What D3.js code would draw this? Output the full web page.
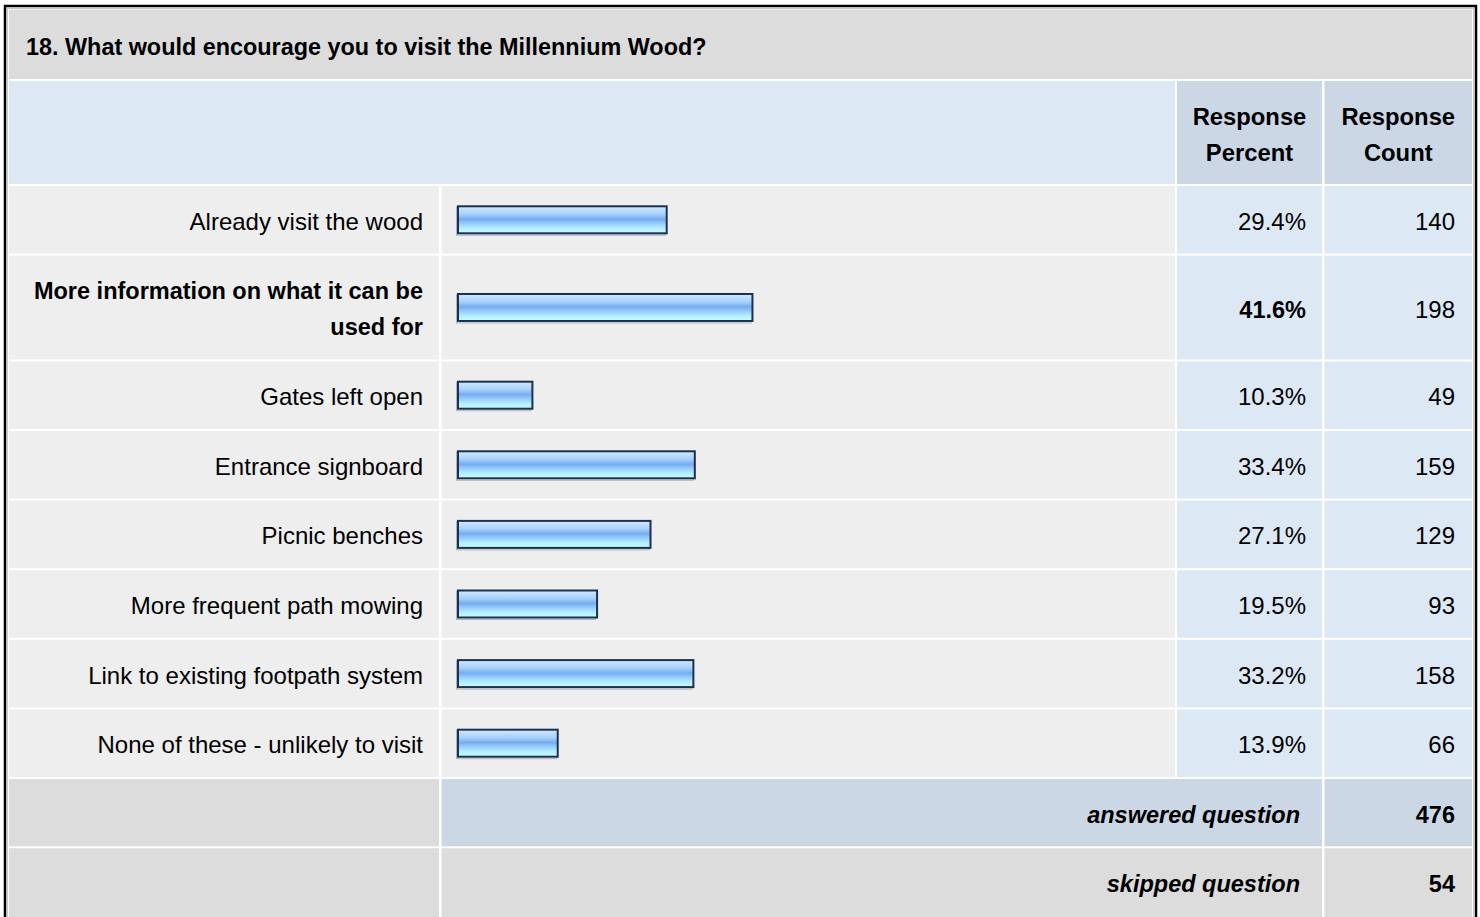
<!DOCTYPE html>
<html>
<head>
<meta charset="utf-8">
<script src="https://cdn.jsdelivr.net/npm/d3@7/dist/d3.min.js"></script>
<style>
  html, body { margin: 0; padding: 0; background: #fff; }
  svg { display: block; font-family: "Liberation Sans", Arial, Helvetica, sans-serif; }
</style>
</head>
<body>
<svg id="chart" width="1480" height="917"></svg>
<script>
// ---- data ----
const title = "18. What would encourage you to visit the Millennium Wood?";
const headerPercent = ["Response", "Percent"];
const headerCount = ["Response", "Count"];
const categories = [
  "Already visit the wood",
  "More information on what it can be used for",
  "Gates left open",
  "Entrance signboard",
  "Picnic benches",
  "More frequent path mowing",
  "Link to existing footpath system",
  "None of these - unlikely to visit"
];
const percents = [29.4, 41.6, 10.3, 33.4, 27.1, 19.5, 33.2, 13.9];
const counts = [140, 198, 49, 159, 129, 93, 158, 66];
const summaryLabels = ["answered question", "skipped question"];
const summaryValues = [476, 54];

// ---- layout ----
const svg = d3.select("#chart");
const FS = 24;      // regular text
const FSB = 23.5;   // bold text
const colLabel = [9, 439];
const colBar = [441.5, 1175];
const colPct = [1177, 1322];
const colCnt = [1324.5, 1472];
const gap = 2;
const maxIdx = percents.indexOf(d3.max(percents));

// gradient
const defs = svg.append("defs");
const grad = defs.append("linearGradient").attr("id", "barGrad")
  .attr("x1", 0).attr("y1", 0).attr("x2", 0).attr("y2", 1);
[["0%", "#d2e9ff"], ["30%", "#a6d0fb"], ["48%", "#76abef"], ["58%", "#8cc2f8"], ["80%", "#b2ecff"], ["100%", "#c6ffff"]]
  .forEach(([o, c]) => grad.append("stop").attr("offset", o).attr("stop-color", c));

// outer frame
svg.append("rect").attr("x", 0).attr("y", 0).attr("width", 1480).attr("height", 917).attr("fill", "#fff");
svg.append("rect").attr("x", 5).attr("y", 6).attr("width", 1471).attr("height", 1000)
  .attr("fill", "#fff").attr("stroke", "#000").attr("stroke-width", 2.5);
svg.append("rect").attr("x", 7.5).attr("y", 8.5).attr("width", 1466).attr("height", 1000)
  .attr("fill", "none").attr("stroke", "#c8c8c8").attr("stroke-width", 1);

function cell(x0, x1, y0, y1, fill) {
  svg.append("rect").attr("x", x0).attr("y", y0).attr("width", x1 - x0).attr("height", y1 - y0).attr("fill", fill);
}

// title row
cell(9, 1472, 9.5, 79, "#dcdcdc");
svg.append("text").attr("x", 26).attr("y", 55).attr("font-size", 23.4).attr("font-weight", "bold")
  .attr("fill", "#000").text(title);

// header row
const hy0 = 81, hy1 = 184;
cell(9, 1175, hy0, hy1, "#dde8f5");
cell(colPct[0], colPct[1], hy0, hy1, "#cbd7e5");
cell(colCnt[0], colCnt[1], hy0, hy1, "#cbd7e5");
[[colPct, headerPercent], [colCnt, headerCount]].forEach(([c, lines]) => {
  const t = svg.append("text").attr("text-anchor", "middle").attr("font-size", 23.8).attr("font-weight", "bold")
    .attr("fill", "#000");
  lines.forEach((l, i) => t.append("tspan").attr("x", (c[0] + c[1]) / 2).attr("y", 125 + i * 36).text(l));
});

// wrap helper
const measurer = svg.append("text").attr("visibility", "hidden");
function wrap(str, bold, maxW) {
  measurer.attr("font-weight", bold ? "bold" : "normal").attr("font-size", bold ? FSB : FS);
  const words = str.split(" ");
  const lines = [];
  let cur = "";
  words.forEach(w => {
    const test = cur ? cur + " " + w : w;
    measurer.text(test);
    if (measurer.node().getComputedTextLength() > maxW && cur) { lines.push(cur); cur = w; }
    else cur = test;
  });
  if (cur) lines.push(cur);
  return lines;
}

// bar scale
const x = d3.scaleLinear().domain([0, 100]).range([0, 703]);
const barX = 458;
const barH = 27;

let y = 184;
categories.forEach((cat, i) => {
  const bold = i === maxIdx;
  const fs = bold ? FSB : FS;
  const lines = wrap(cat, bold, 400);
  const h = lines.length === 1 ? 69.6 : 105.8;
  const y0 = y + gap, y1 = y + h;
  const cy = (y0 + y1) / 2;
  cell(colLabel[0], colLabel[1], y0, y1, "#eeeeee");
  cell(colBar[0], colBar[1], y0, y1, "#eeeeee");
  cell(colPct[0], colPct[1], y0, y1, "#dde8f5");
  cell(colCnt[0], colCnt[1], y0, y1, "#dde8f5");

  const lt = svg.append("text").attr("text-anchor", "end").attr("font-size", fs)
    .attr("font-weight", bold ? "bold" : "normal").attr("fill", "#000");
  const lh = 36;
  lines.forEach((l, k) => lt.append("tspan").attr("x", 423)
    .attr("y", cy + 10 + (k - (lines.length - 1) / 2) * lh - (lines.length > 1 ? 1 : 0)).text(l));

  // bar shadow + bar
  svg.append("rect").attr("x", barX - 1.5).attr("y", cy - barH / 2 + 0.5).attr("width", x(percents[i]) + 2)
    .attr("height", barH + 1.5).attr("fill", "none").attr("stroke", "#a9b4c2").attr("stroke-width", 1);
  svg.append("rect").attr("x", barX).attr("y", cy - barH / 2).attr("width", x(percents[i]) + 2)
    .attr("height", barH).attr("fill", "url(#barGrad)").attr("stroke", "#1c3050").attr("stroke-width", 2);

  svg.append("text").attr("x", 1306).attr("y", cy + 10).attr("text-anchor", "end").attr("font-size", fs)
    .attr("font-weight", bold ? "bold" : "normal").attr("fill", "#000").text(percents[i].toFixed(1) + "%");
  svg.append("text").attr("x", 1455).attr("y", cy + 10).attr("text-anchor", "end").attr("font-size", FS)
    .attr("fill", "#000").text(counts[i]);
  y += h;
});

// summary rows
summaryLabels.forEach((lab, i) => {
  const h = 69.3;
  const y0 = y + gap, y1 = y + h + (i === 1 ? 100 : 0);
  const cy = (y + gap + y + h) / 2;
  const mid = i === 0 ? "#cbd7e5" : "#dcdcdc";
  cell(colLabel[0], colLabel[1], y0, y1, "#dcdcdc");
  cell(colBar[0], colPct[1], y0, y1, mid);
  cell(colCnt[0], colCnt[1], y0, y1, mid);
  svg.append("text").attr("x", 1300).attr("y", cy + 10).attr("text-anchor", "end").attr("font-size", FSB)
    .attr("font-weight", "bold").attr("font-style", "italic").attr("fill", "#000").text(lab);
  svg.append("text").attr("x", 1455).attr("y", cy + 10).attr("text-anchor", "end").attr("font-size", FSB)
    .attr("font-weight", "bold").attr("fill", "#000").text(summaryValues[i]);
  y += h;
});
measurer.remove();
</script>
</body>
</html>
